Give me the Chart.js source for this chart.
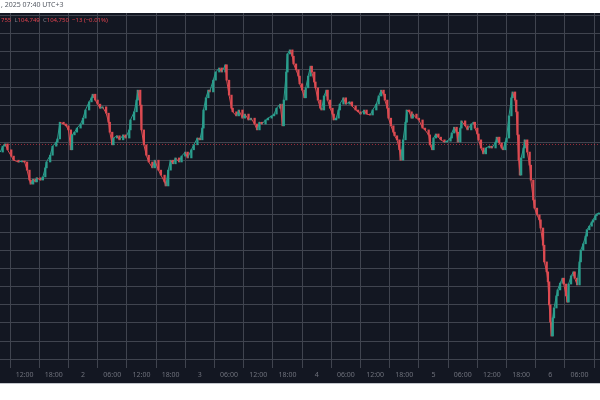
<!DOCTYPE html>
<html>
<head>
<meta charset="utf-8">
<script src="https://cdn.jsdelivr.net/npm/chart.js@4.4.1/dist/chart.umd.min.js"></script>
<style>
  body { margin: 0; background: #ffffff; overflow: hidden; }
  #wrap { position: relative; width: 600px; height: 400px; }
  .txt { position: absolute; left: 1px; font-family: "Noto Sans", "DejaVu Sans", sans-serif; white-space: nowrap; line-height: 8px; }
  #stamp { top: 1px; font-size: 7px; color: #555a63; }
  #ohlc { top: 16px; font-size: 6px; color: #e0434f; }
  #ohlc .k { color: #787b86; }
</style>
</head>
<body>
<div id="wrap">
  <canvas id="priceChart" width="600" height="400"></canvas>
  <div id="stamp" class="txt">, 2025 07:40 UTC+3</div>
  <div id="ohlc" class="txt">755 &nbsp;<span class="k">L</span>104,749 &nbsp;<span class="k">C</span>104,750 &nbsp;&minus;13 (&minus;0.01%)</div>
</div>
<script>
// hours since day 1 00:00 (15 min candles)
const hours = [
  7, 7.5, 8, 8.5, 9.25, 9.75, 10.75, 11.5, 12, 12.5, 13, 13.25, 13.75, 14.25, 14.5, 15.25, 15.75, 16.25, 16.5, 17.25,
  17.75, 18.5, 18.75, 19.25, 20, 20.5, 21, 21.5, 21.75, 22.25, 22.75, 23.5, 24, 24.5, 25.25, 25.75, 26, 26.5, 27, 27.5,
  28, 28.75, 29.25, 29.5, 30, 30.25, 31, 31.5, 32.25, 32.75, 33.5, 33.75, 34.5, 35, 35.25, 35.75, 36, 36.5, 37, 37.5,
  38.25, 38.75, 39.5, 40, 40.75, 41, 41.5, 42, 42.5, 43, 43.75, 44.25, 45, 45.5, 46.25, 46.75, 47.5, 48, 48.5, 48.75,
  49.25, 49.75, 50, 50.75, 51.25, 52, 52.5, 53.25, 53.5, 54, 54.5, 54.75, 55.5, 56, 56.75, 57.25, 58, 58.5, 59.25, 59.75,
  60.25, 60.75, 61.5, 62, 62.75, 63.25, 63.75, 64.5, 65, 65.25, 65.75, 66, 66.5, 67, 67.25, 67.75, 68.25, 68.5, 69, 69.5,
  69.75, 70.25, 70.75, 71, 71.5, 71.75, 72.25, 72.75, 73, 73.5, 74, 74.25, 74.75, 75.25, 75.5, 76, 76.5, 76.75, 77.5, 78,
  78.75, 79.25, 80, 80.5, 81, 81.75, 82.25, 83, 83.5, 84.25, 84.75, 85.25, 85.75, 86, 86.5, 86.75, 87.25, 87.75, 88, 88.5,
  89, 89.25, 89.75, 90.25, 90.5, 91, 91.5, 91.75, 92.5, 93, 93.75, 94.25, 95, 95.25, 95.75, 96, 96.5, 97, 97.5, 98.25,
  98.75, 99.5, 99.75, 100.25, 100.75, 101, 101.5, 101.75, 102.5, 103, 103.75, 104.25, 104.5, 105, 105.25, 105.75, 106.25, 106.75, 107.5, 108,
  108.75, 109, 109.5, 110, 110.25, 110.75, 111, 111.5, 112, 112.25, 112.75, 113, 113.25, 113.5, 113.75, 114, 114.5, 114.75, 115.25, 115.75,
  116, 116.5, 116.75, 117.25, 117.75, 118, 118.5, 118.75, 119.25, 119.5, 119.75, 120, 120.25, 120.5, 120.75, 121.25, 121.5, 122, 122.5, 122.75,
  123.25, 123.5, 123.75, 124.25, 124.75, 125, 125.5, 126, 126.25, 126.75, 127.25, 127.5, 128, 128.5, 128.75, 129.25, 129.5, 130
];

const closes = [
  104580, 104710, 104760, 104630, 104490, 104400, 104360, 104380, 104360, 104180, 103960, 103870, 103980, 103920, 104010, 103960, 104030, 104230, 104360, 104510,
  104710, 104800, 104870, 105240, 105200, 105160, 105070, 104630, 104960, 105020, 105110, 105200, 105330, 105510, 105690, 105780, 105860, 105730, 105640, 105550,
  105580, 105440, 105240, 105020, 104740, 104890, 104940, 104850, 104960, 104890, 105070, 105290, 105470, 105730, 105950, 105620, 105070, 104740, 104510, 104360,
  104230, 104400, 104180, 104070, 103920, 103830, 104180, 104400, 104320, 104450, 104360, 104490, 104580, 104450, 104630, 104740, 104890, 104850, 105110, 105510,
  105780, 105950, 105910, 106170, 106350, 106440, 106350, 106510, 106170, 105840, 105550, 105470, 105380, 105510, 105330, 105420, 105290, 105330, 105200, 105070,
  105240, 105200, 105290, 105330, 105380, 105420, 105550, 105640, 105160, 105730, 106350, 106750, 106840, 106700, 106530, 106400, 106260, 106090, 105950, 105780,
  106000, 106260, 106480, 106350, 106130, 106000, 105730, 105550, 105510, 105820, 105950, 105730, 105550, 105420, 105290, 105330, 105510, 105640, 105780, 105640,
  105690, 105600, 105510, 105470, 105420, 105510, 105420, 105400, 105510, 105640, 105820, 105950, 105860, 105730, 105550, 105330, 105160, 105020, 104940, 104850,
  104630, 104400, 104850, 105240, 105510, 105470, 105330, 105420, 105330, 105290, 105110, 105070, 104960, 104740, 104630, 104890, 104980, 104910, 104850, 104800,
  104820, 104890, 105000, 105130, 105020, 104800, 105110, 105270, 105160, 105070, 105200, 105240, 105110, 104980, 104850, 104670, 104540, 104670, 104710, 104670,
  104800, 104910, 104780, 104670, 104630, 104800, 104890, 105380, 105780, 105910, 105730, 105470, 104960, 104400, 104070, 104450, 104670, 104850, 104580, 104290,
  103960, 103520, 103340, 103190, 103080, 102900, 102520, 102150, 101930, 101710, 101200, 100820, 100510, 100910, 101130, 101400, 101530, 101680, 101790, 101660,
  101400, 101260, 101660, 101840, 101930, 101790, 101640, 102150, 102410, 102550, 102720, 102860, 102940, 103030, 103080, 103170, 103210, 103230
];

// time axis ticks every 6 h, price grid every 400
const xTickHours = [12, 18, 24, 30, 36, 42, 48, 54, 60, 66, 72, 78, 84, 90, 96, 102, 108, 114, 120, 126];
const gridPrices = [100000, 100400, 100800, 101200, 101600, 102000, 102400, 102800, 103200, 103600,
                    104000, 104400, 104800, 105200, 105600, 106000, 106400, 106800, 107200, 107600];

const lastPrice = 104750;
const hourMin = 6.945, hourMax = 130.2;
const priceMin = 99803, priceMax = 107656;

const upColor = '#2a9d8c';
const downColor = '#dc4a51';
const gridColor = '#40444f';

function pad2(n) {
    return (n < 10 ? '0' : '') + n;
}

function tickLabel(value) {
    if (value % 24 === 0) {
        return String(value / 24 + 1);
    }
    return pad2(value % 24) + ':00';
}

// candle bodies: open = previous close
const candles = [];
const candleColors = [];
for (let i = 1; i < hours.length; i++) {
    candles.push({ x: hours[i], y: [closes[i - 1], closes[i]] });
    candleColors.push(closes[i] >= closes[i - 1] ? upColor : downColor);
}

const panelPlugin = {
    id: 'panel',
    beforeDraw(chart) {
        const c = chart.ctx;
        c.save();
        c.fillStyle = '#ffffff';
        c.fillRect(0, 0, chart.width, chart.height);
        c.fillStyle = '#131722';
        c.fillRect(0, 13, chart.width, 370);
        c.fillStyle = '#c3c6cc';
        c.fillRect(0, 383, chart.width, 1);
        c.restore();
    },
    beforeDatasetsDraw(chart) {
        const c = chart.ctx;
        const area = chart.chartArea;
        const y = Math.round(chart.scales.y.getPixelForValue(lastPrice)) + 0.5;
        c.save();
        c.strokeStyle = 'rgba(242, 54, 69, 0.6)';
        c.lineWidth = 1;
        c.setLineDash([1, 2]);
        c.beginPath();
        c.moveTo(area.left, y);
        c.lineTo(area.right, y);
        c.stroke();
        c.restore();
    }
};

new Chart(document.getElementById('priceChart'), {
    type: 'bar',
    data: {
        datasets: [{
            type: 'line',
            data: hours.map((h, i) => ({ x: h, y: closes[i] })),
            borderWidth: 1,
            pointRadius: 0,
            tension: 0,
            segment: {
                borderColor: ctx => ctx.p1.parsed.y >= ctx.p0.parsed.y ? upColor : downColor
            }
        },
        {
            data: candles,
            backgroundColor: candleColors,
            borderWidth: 0,
            barThickness: 1.6,
            minBarLength: 1
        }]
    },
    plugins: [panelPlugin],
    options: {
        responsive: false,
        animation: false,
        devicePixelRatio: 1,
        layout: { padding: { top: 13, bottom: 17, left: 0, right: 0 } },
        plugins: {
            legend: { display: false },
            tooltip: { enabled: false }
        },
        scales: {
            x: {
                type: 'linear',
                offset: false,
                min: hourMin,
                max: hourMax,
                ticks: {
                    autoSkip: false,
                    maxRotation: 0,
                    padding: 3,
                    color: '#6f727c',
                    font: { family: 'Noto Sans', size: 7 },
                    callback: tickLabel
                },
                afterBuildTicks: scale => {
                    scale.ticks = xTickHours.map(v => ({ value: v }));
                },
                afterFit: scale => { scale.height = 15; },
                grid: { color: gridColor, lineWidth: 1, drawTicks: false },
                border: { display: false }
            },
            y: {
                min: priceMin,
                max: priceMax,
                ticks: { display: false },
                afterBuildTicks: scale => {
                    scale.ticks = gridPrices.map(v => ({ value: v }));
                },
                grid: { color: gridColor, lineWidth: 1, drawTicks: false },
                border: { display: false }
            }
        }
    }
});
</script>
</body>
</html>
